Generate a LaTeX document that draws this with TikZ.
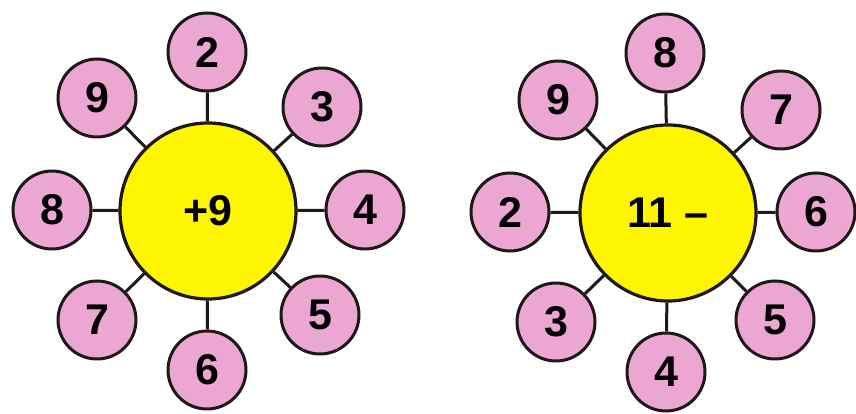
\documentclass[tikz,border=0pt]{standalone}
\usepackage{fontspec}
\setmainfont{Liberation Sans}
\definecolor{petal}{RGB}{236,166,210}
\definecolor{sun}{RGB}{254,246,0}
\definecolor{ink}{RGB}{30,24,24}
\tikzset{
  petal/.style={circle, draw=ink, line width=3pt, fill=petal, minimum size=78pt,
                inner sep=0pt, font=\fontsize{43}{43}\selectfont\bfseries, text=black},
  core/.style={circle, draw=ink, line width=3.2pt, fill=sun, minimum size=176pt,
                inner sep=0pt, font=\fontsize{43}{43}\selectfont\bfseries, text=black},
  stem/.style={ink, line width=3pt},
}
\begin{document}
\begin{tikzpicture}[x=1pt, y=1pt]
        \useasboundingbox[fill=white] (0,0) rectangle (856,414);
        % ===================== left flower =====================
        \node[core] (L) at (208,203) {+9};
        \foreach \x/\y/\n/\t in {207/362/a/2, 97/316/b/9, 322/307/c/3, 52/204/d/8,
                                 365/204/e/4, 97/94/f/7, 320/99/g/5, 207/44/h/6} {
          \node[petal] (L\n) at (\x,\y) {\t};
          \draw[stem] (L) -- (L\n);
        }
        % ===================== right flower =====================
        \node[core] (R) at (668,201) {11 –};
        \foreach \x/\y/\n/\t in {665/361/a/8, 558/314/b/9, 781/304/c/7, 510/202/d/2,
                                 816/202/e/6, 556/92/f/3, 775/94/g/5, 666/42/h/4} {
          \node[petal] (R\n) at (\x,\y) {\t};
          \draw[stem] (R) -- (R\n);
        }
      \end{tikzpicture}
\end{document}
